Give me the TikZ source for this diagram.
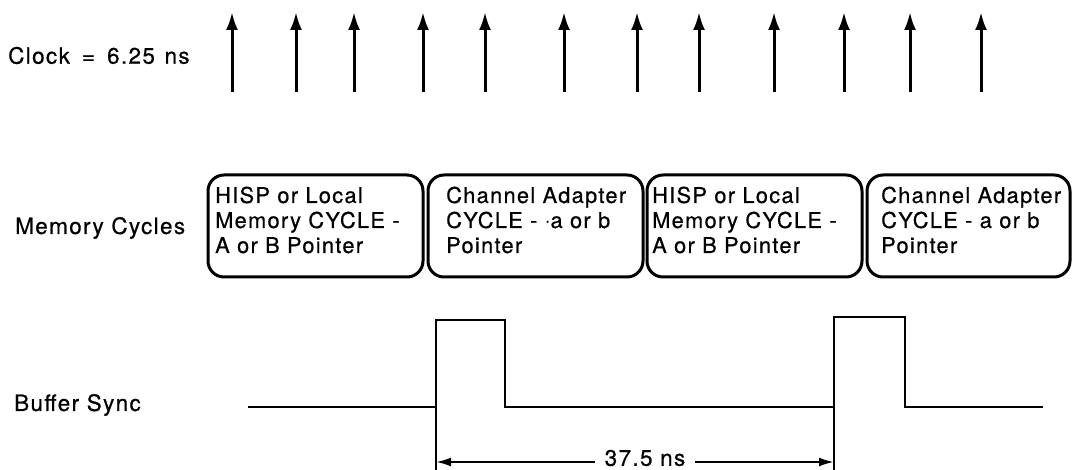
\documentclass[tikz,border=0pt]{standalone}
\usepackage{fontspec}
\setmainfont{TeX Gyre Heros}[LetterSpace=6,FakeBold=0.6]
\usetikzlibrary{arrows.meta,calc}
\tikzset{
  lbl/.style={inner sep=0pt, font=\fontsize{22.5}{27}\selectfont},
  clk/.style={line width=3pt, -{Latex[length=18pt,width=12pt]}},
  membox/.style={draw, line width=3pt, rounded corners=16pt, minimum height=102pt, inner sep=0pt},
  boxtxt/.style={inner sep=0pt, align=left, anchor=west, font=\fontsize{21.8}{25}\selectfont},
  wave/.style={line width=2.2pt},
  dim/.style={line width=2.2pt, -{Latex[length=15pt,width=9pt]}}
}
\begin{document}
\begin{tikzpicture}[x=1pt,y=-1pt]
\useasboundingbox (0,0) rectangle (1072,470);
% labels
\node[lbl, anchor=west] (clocklbl) at (8,55.5) {Clock\hspace{12pt}=\hspace{12pt}6.25\hspace{2pt} ns};
\node[lbl, anchor=west] (memlbl) at (15,228) {Memory Cycles};
\node[lbl, anchor=west] (buflbl) at (14,405) {Buffer Sync};
% clock arrows
\foreach \i/\x in {1/232,2/296,3/354,4/423,5/485,6/564,7/637,8/699,9/774,10/844,11/910,12/981}{
  \coordinate (cb\i) at (\x,92);
  \coordinate (ct\i) at (\x,12);
  \draw[clk] (cb\i) -- (ct\i);
}
% memory boxes
\node[membox, minimum width=215pt] (b1) at (315.5,226) {};
\node[membox, minimum width=215pt] (b2) at (535.5,226) {};
\node[membox, minimum width=215pt] (b3) at (754.5,226) {};
\node[membox, minimum width=203pt] (b4) at (968.5,226) {};
\node[boxtxt] (t1) at (215,220) {HISP or Local\\Memory CYCLE -\\A or B Pointer};
\node[boxtxt] (t2) at (446,220) {Channel Adapter\\CYCLE - $\cdot$a or b\\Pointer};
\node[boxtxt] (t3) at (652,220) {HISP or Local\\Memory CYCLE -\\A or B Pointer};
\node[boxtxt] (t4) at (881,220) {Channel Adapter\\CYCLE - a or b\\Pointer};
% buffer sync waveform
\coordinate (w0) at (248,407);
\coordinate (r1) at (436,407);
\coordinate (f1) at (505,407);
\coordinate (r2) at (834,407);
\coordinate (f2) at (905,407);
\coordinate (w9) at (1043,407);
\draw[wave, line join=miter] (w0) -- (r1) -- ($(r1)+(0,-87)$) -- ($(f1)+(0,-87)$) -- (f1) -- (r2) -- ($(r2)+(0,-90)$) -- ($(f2)+(0,-90)$) -- (f2) -- (w9);
\coordinate (e1) at (436,470);
\coordinate (e2) at (834,470);
\draw[wave] (r1) -- (e1);
\draw[wave] (r2) -- (e2);
% dimension
\coordinate (d1) at (436,462);
\coordinate (d2) at (834,462);
\node[lbl, fill=white, inner xsep=10pt] (dimtxt) at (645,458) {37.5 ns};
\draw[dim] (dimtxt.west |- d1) -- (d1);
\draw[dim] (dimtxt.east |- d2) -- (d2);
\end{tikzpicture}
\end{document}
